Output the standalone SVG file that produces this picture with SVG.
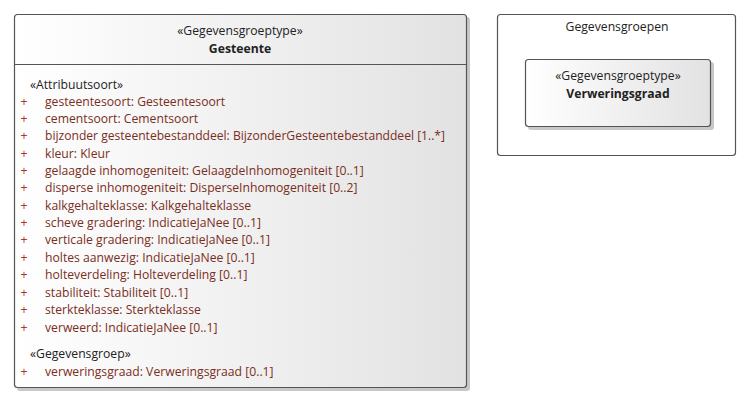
<svg xmlns="http://www.w3.org/2000/svg" width="752" height="403" viewBox="0 0 752 403">
<defs>
<linearGradient id="g" x1="0" y1="0" x2="1" y2="0">
<stop offset="0" stop-color="#ffffff"/>
<stop offset="1" stop-color="#e2e2e2"/>
</linearGradient>
<style>
.box{fill:url(#g);stroke:#555;stroke-width:1.2}
.sh{fill:#c8c8c8}
.frame{fill:#fff;stroke:#555;stroke-width:1.2}
text{font-family:"Open Sans","Noto Sans","Liberation Sans",sans-serif;font-size:12.2px;fill:#222}
.c{text-anchor:middle}
.b{font-weight:bold}
.a{fill:#7a2e22}
.p{fill:#a8322a}
</style>
</defs>
<rect width="752" height="403" fill="#fff"/>
<g id="Gesteente">
<rect class="sh" x="17" y="17" width="453" height="374" rx="3"/>
<rect class="box" x="14.5" y="14.5" width="452" height="373" rx="3"/>
<line x1="14.5" y1="64.5" x2="466.5" y2="64.5" stroke="#555" stroke-width="1.2"/>
<text class="c" x="240" y="35">«Gegevensgroeptype»</text>
<text class="c b" x="240" y="53">Gesteente</text>
<text x="30" y="89">«Attribuutsoort»</text>
<g>
<text class="p" x="20.5" y="106">+</text>
<text class="p" x="20.5" y="123">+</text>
<text class="p" x="20.5" y="140">+</text>
<text class="p" x="20.5" y="158">+</text>
<text class="p" x="20.5" y="175">+</text>
<text class="p" x="20.5" y="192">+</text>
<text class="p" x="20.5" y="210">+</text>
<text class="p" x="20.5" y="227">+</text>
<text class="p" x="20.5" y="244">+</text>
<text class="p" x="20.5" y="262">+</text>
<text class="p" x="20.5" y="279">+</text>
<text class="p" x="20.5" y="297">+</text>
<text class="p" x="20.5" y="314">+</text>
<text class="p" x="20.5" y="332">+</text>
<text class="p" x="20.5" y="376">+</text>
</g>
<text class="a" x="45" y="106">gesteentesoort: Gesteentesoort</text>
<text class="a" x="45" y="123">cementsoort: Cementsoort</text>
<text class="a" x="45" y="140" textLength="400" lengthAdjust="spacingAndGlyphs">bijzonder gesteentebestanddeel: BijzonderGesteentebestanddeel [1..*]</text>
<text class="a" x="45" y="158">kleur: Kleur</text>
<text class="a" x="45" y="175">gelaagde inhomogeniteit: GelaagdeInhomogeniteit [0..1]</text>
<text class="a" x="45" y="192">disperse inhomogeniteit: DisperseInhomogeniteit [0..2]</text>
<text class="a" x="45" y="210">kalkgehalteklasse: Kalkgehalteklasse</text>
<text class="a" x="45" y="227">scheve gradering: IndicatieJaNee [0..1]</text>
<text class="a" x="45" y="244">verticale gradering: IndicatieJaNee [0..1]</text>
<text class="a" x="45" y="262">holtes aanwezig: IndicatieJaNee [0..1]</text>
<text class="a" x="45" y="279">holteverdeling: Holteverdeling [0..1]</text>
<text class="a" x="45" y="297">stabiliteit: Stabiliteit [0..1]</text>
<text class="a" x="45" y="314">sterkteklasse: Sterkteklasse</text>
<text class="a" x="45" y="332">verweerd: IndicatieJaNee [0..1]</text>
<text x="30" y="358">«Gegevensgroep»</text>
<text class="a" x="45" y="376">verweringsgraad: Verweringsgraad [0..1]</text>
</g>
<g id="Gegevensgroepen">
<rect class="frame" x="497.5" y="14.5" width="238" height="141" rx="3"/>
<text class="c" x="617" y="31">Gegevensgroepen</text>
</g>
<g id="Verweringsgraad">
<rect class="sh" x="528" y="62" width="186" height="68" rx="3"/>
<rect class="box" x="525.5" y="59.5" width="185" height="67" rx="3"/>
<text class="c" x="618" y="80">«Gegevensgroeptype»</text>
<text class="c b" x="618" y="98">Verweringsgraad</text>
</g>
<g id="connectors"/>
</svg>
